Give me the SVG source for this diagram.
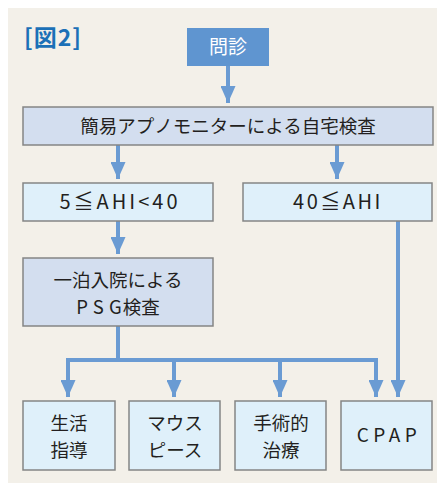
<svg xmlns="http://www.w3.org/2000/svg" width="437" height="483" viewBox="0 0 437 483">
<defs>
<style>
.t{font-family:"Noto Sans CJK JP","Noto Sans",sans-serif;fill:#231f20;text-anchor:middle;}
.box{stroke:#858585;stroke-width:1.5;}
.a{fill:#dff0fa;}
.b{fill:#d3deef;}
.ln{stroke:#6a9bd3;stroke-width:4;fill:none;}
</style>
<marker id="ah" markerUnits="userSpaceOnUse" markerWidth="18" markerHeight="15" refX="17" refY="7.5" orient="auto" viewBox="0 0 18 15">
<path d="M0,0 L17,7.5 L0,15 Z" fill="#6a9bd3"/>
</marker>
</defs>
<rect x="8" y="8" width="429" height="475" fill="#f3f0e9"/>
<text x="24" y="46" font-family="Noto Sans CJK JP,sans-serif" font-size="23" font-weight="bold" letter-spacing="1" fill="#1b70b7">[図2]</text>
<g id="connectors">
<path class="ln" d="M228,66 V103" marker-end="url(#ah)"/>
<path class="ln" d="M118,145 V179" marker-end="url(#ah)"/>
<path class="ln" d="M337,145 V179" marker-end="url(#ah)"/>
<path class="ln" d="M118,221 V254" marker-end="url(#ah)"/>
<path class="ln" d="M118,326 V360"/>
<path class="ln" d="M68,397 V360 H376 V397" marker-end="url(#ah)"/>
<path class="ln" d="M68,360 V397" marker-end="url(#ah)"/>
<path class="ln" d="M174,360 V397" marker-end="url(#ah)"/>
<path class="ln" d="M280,360 V397" marker-end="url(#ah)"/>
<path class="ln" d="M398,221 V397" marker-end="url(#ah)"/>
</g>
<g id="monshin">
<rect x="187" y="28" width="82" height="38" fill="#5f95d0"/>
<text class="t" x="228" y="54" font-size="19" style="fill:#ffffff">問診</text>
</g>
<g id="home">
<rect class="box b" x="23" y="107" width="410" height="38"/>
<text class="t" x="228" y="133" font-size="18.5">簡易アプノモニターによる自宅検査</text>
</g>
<g id="ahi1">
<rect class="box a" x="23" y="183" width="190" height="38"/>
<text class="t" x="120" y="209" font-size="20" letter-spacing="3">5≦AHI&lt;40</text>
</g>
<g id="ahi2">
<rect class="box a" x="243" y="183" width="189" height="38"/>
<text class="t" x="338" y="209" font-size="20" letter-spacing="2.5">40≦AHI</text>
</g>
<g id="psg">
<rect class="box b" x="23" y="258" width="190" height="68"/>
<text class="t" x="118" y="287" font-size="18.5">一泊入院による</text>
<text class="t" x="118" y="314" font-size="18.5"><tspan letter-spacing="5">PS</tspan><tspan letter-spacing="1">G</tspan>検査</text>
</g>
<g id="seikatsu">
<rect class="box a" x="23" y="401" width="92" height="69"/>
<text class="t" x="69" y="430" font-size="18.5">生活</text>
<text class="t" x="69" y="457" font-size="18.5">指導</text>
</g>
<g id="mouthpiece">
<rect class="box a" x="129" y="401" width="91" height="69"/>
<text class="t" x="175" y="430" font-size="18.5">マウス</text>
<text class="t" x="175" y="457" font-size="18.5">ピース</text>
</g>
<g id="surgery">
<rect class="box a" x="235" y="401" width="91" height="69"/>
<text class="t" x="281" y="430" font-size="18.5">手術的</text>
<text class="t" x="281" y="457" font-size="18.5">治療</text>
</g>
<g id="cpap">
<rect class="box a" x="341" y="401" width="91" height="69"/>
<text class="t" x="389" y="442" font-size="19" letter-spacing="4.5">CPAP</text>
</g>
</svg>
